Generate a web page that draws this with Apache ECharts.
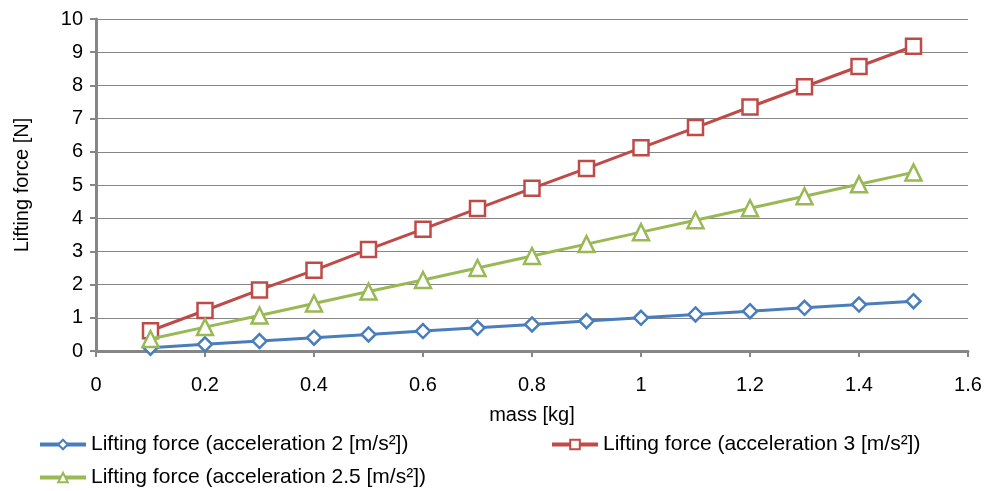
<!DOCTYPE html>
<html lang="en">
<head>
    <meta charset="utf-8">
    <title>Lifting force</title>
    <script type="text/javascript" src="https://cdn.jsdelivr.net/npm/echarts@6/dist/echarts.min.js"></script>
    <style>
        html, body { margin: 0; padding: 0; background: #fff; }
    </style>
</head>
<body>
<div id="main" style="width: 986px;height:491px;"></div>
<script>
    // 数据
    var mass = [0.1, 0.2, 0.3, 0.4, 0.5, 0.6, 0.7, 0.8, 0.9, 1.0, 1.1, 1.2, 1.3, 1.4, 1.5];
    var force2 = [0.1, 0.2, 0.3, 0.4, 0.5, 0.6, 0.7, 0.8, 0.9, 1.0, 1.1, 1.2, 1.3, 1.4, 1.5];
    var force3 = [0.61, 1.22, 1.84, 2.43, 3.06, 3.67, 4.29, 4.9, 5.5, 6.12, 6.73, 7.35, 7.96, 8.57, 9.18];
    var force25 = [0.36, 0.72, 1.07, 1.43, 1.79, 2.14, 2.5, 2.86, 3.22, 3.58, 3.94, 4.3, 4.66, 5.02, 5.38];
    var names = [
        'Lifting force (acceleration 2 [m/s²])',
        'Lifting force (acceleration 3 [m/s²])',
        'Lifting force (acceleration 2.5 [m/s²])'
    ];

    function pairs(ys) {
        return mass.map(function (m, i) { return [m, ys[i]]; });
    }

    var font = 'Liberation Sans, Arial, sans-serif';
    var legendText = { fontFamily: font, fontSize: 21, color: '#000' };
    var legendBase = { itemWidth: 46, itemHeight: 12, itemGap: 2, textStyle: legendText, lineStyle: { width: 4 } };

    var myChart = echarts.init(document.getElementById('main'));
    var option = {
        animation: false,
        grid: { left: 96, right: 18, top: 19, bottom: 140 },
        legend: [
            Object.assign({ data: [names[0]], left: 33, top: 429 }, legendBase),
            Object.assign({ data: [names[1]], left: 545, top: 429 }, legendBase),
            Object.assign({ data: [names[2]], left: 33, top: 462 }, legendBase)
        ],
        xAxis: {
            type: 'value',
            min: 0, max: 1.6, interval: 0.2,
            name: 'mass [kg]',
            nameLocation: 'middle',
            nameGap: 54,
            nameTextStyle: { fontFamily: font, fontSize: 20, color: '#000' },
            axisLine: { lineStyle: { color: '#868686', width: 3 } },
            axisTick: { length: 6, lineStyle: { color: '#868686', width: 2 } },
            axisLabel: { fontFamily: font, fontSize: 20, color: '#000', margin: 24 },
            splitLine: { show: false }
        },
        yAxis: {
            type: 'value',
            min: 0, max: 10, interval: 1,
            name: 'Lifting force [N]',
            nameLocation: 'middle',
            nameGap: 64,
            nameTextStyle: { fontFamily: font, fontSize: 20, color: '#000' },
            axisLine: { show: true, lineStyle: { color: '#868686', width: 3 } },
            axisTick: { show: true, length: 6, lineStyle: { color: '#868686', width: 2 } },
            axisLabel: { fontFamily: font, fontSize: 20, color: '#000', margin: 13 },
            splitLine: { lineStyle: { color: '#868686', width: 1 } }
        },
        series: [
            {
                name: names[0], type: 'line', data: pairs(force2),
                symbol: 'diamond', symbolSize: 14,
                lineStyle: { color: '#4a7ebb', width: 3 },
                itemStyle: { color: '#fff', borderColor: '#4a7ebb', borderWidth: 2.5 },
                z: 3
            },
            {
                name: names[1], type: 'line', data: pairs(force3),
                symbol: 'rect', symbolSize: 15,
                lineStyle: { color: '#be4b48', width: 3 },
                itemStyle: { color: '#fff', borderColor: '#be4b48', borderWidth: 2.5 },
                z: 4
            },
            {
                name: names[2], type: 'line', data: pairs(force25),
                symbol: 'triangle', symbolSize: 16,
                lineStyle: { color: '#98b954', width: 3 },
                itemStyle: { color: '#fff', borderColor: '#98b954', borderWidth: 2.5 },
                z: 5
            }
        ]
    };
    myChart.setOption(option);
</script>
</body>
</html>
